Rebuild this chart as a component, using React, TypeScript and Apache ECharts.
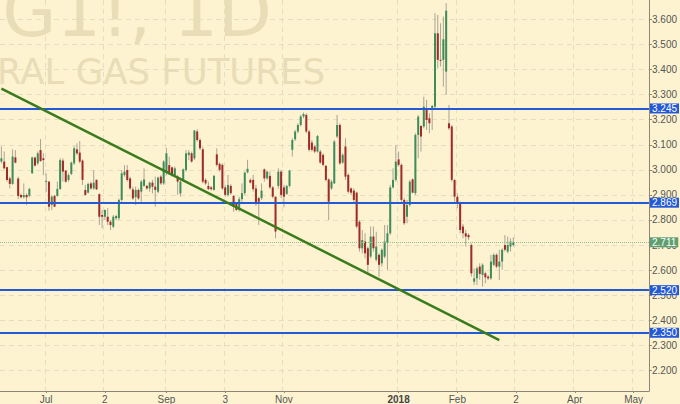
import React, { useEffect, useRef } from "react";
import * as echarts from "echarts";

// ---- data -----------------------------------------------------------------
const START_DATE = "2017-06-09";
const CATEGORY_COUNT = 232;
const HOLIDAYS = ["2017-07-04", "2017-09-04", "2017-11-23", "2017-12-25", "2018-01-01", "2018-01-15"];

const MONTH_LABELS: Record<string, string> = {
  "2017-07-03": "Jul",
  "2017-08-02": "2",
  "2017-09-01": "Sep",
  "2017-10-03": "3",
  "2017-11-01": "Nov",
  "2018-01-02": "2018",
  "2018-02-01": "Feb",
  "2018-03-02": "2",
  "2018-04-02": "Apr",
  "2018-05-01": "May",
};

const Y_TICKS = [2.2, 2.3, 2.4, 2.5, 2.6, 2.7, 2.8, 2.9, 3.0, 3.1, 3.2, 3.3, 3.4, 3.5, 3.6];
const LEVELS = [3.245, 2.869, 2.52, 2.35];
const LAST_PRICE = 2.711;
// trend line: [bar index, price]
const TREND_START = [0, 3.324];
const TREND_END = [178, 2.321];

// daily candles: [open, close, low, high]
const ohlc: number[][] = [
  [3.033, 3.046, 3.026, 3.093], [3.033, 3.006, 3.002, 3.073], [3.010, 2.960, 2.953, 3.013], [2.966, 2.944, 2.926, 2.973],
  [2.944, 3.053, 2.940, 3.082], [3.050, 3.029, 3.026, 3.079], [2.966, 2.896, 2.883, 2.973], [2.900, 2.891, 2.886, 2.906],
  [2.891, 2.900, 2.886, 2.946], [2.900, 2.891, 2.860, 2.906], [2.897, 2.924, 2.891, 2.929], [2.986, 3.049, 2.984, 3.053],
  [3.049, 3.017, 3.013, 3.053], [3.026, 3.066, 3.019, 3.073], [3.079, 3.035, 3.033, 3.123], [3.046, 3.039, 2.979, 3.066],
  [2.953, 2.956, 2.913, 2.986], [2.953, 2.853, 2.837, 2.956], [2.860, 2.893, 2.840, 2.900], [2.896, 2.853, 2.851, 2.900],
  [2.896, 2.924, 2.893, 2.953], [2.924, 3.039, 2.920, 3.046], [3.037, 2.993, 2.953, 3.046], [2.997, 2.953, 2.949, 2.999],
  [2.960, 2.979, 2.953, 2.986], [2.984, 3.029, 2.979, 3.033], [3.026, 3.086, 3.019, 3.095], [3.082, 3.066, 3.059, 3.106],
  [3.069, 3.033, 3.026, 3.115], [3.037, 2.960, 2.940, 3.042], [2.920, 2.900, 2.896, 2.940], [2.909, 2.944, 2.906, 2.949],
  [2.946, 2.926, 2.920, 2.953], [2.926, 2.949, 2.920, 2.999], [2.960, 2.922, 2.920, 2.962], [2.903, 2.813, 2.780, 2.906],
  [2.820, 2.813, 2.767, 2.840], [2.813, 2.840, 2.800, 2.842], [2.813, 2.793, 2.780, 2.847], [2.793, 2.780, 2.760, 2.800],
  [2.773, 2.813, 2.767, 2.820], [2.807, 2.816, 2.800, 2.820], [2.807, 2.880, 2.800, 2.886], [2.880, 2.986, 2.873, 2.999],
  [2.979, 2.993, 2.973, 3.019], [2.999, 2.960, 2.953, 3.019], [2.966, 2.926, 2.920, 2.973], [2.922, 2.886, 2.880, 2.933],
  [2.891, 2.920, 2.860, 2.933], [2.920, 2.886, 2.880, 2.926], [2.913, 2.953, 2.873, 2.960], [2.936, 2.962, 2.933, 3.006],
  [2.936, 2.926, 2.920, 2.940], [2.926, 2.949, 2.913, 2.953], [2.949, 2.933, 2.906, 2.960], [2.933, 2.920, 2.853, 2.973],
  [2.913, 2.969, 2.906, 2.973], [2.973, 2.946, 2.940, 2.979], [2.946, 3.033, 2.940, 3.039], [2.993, 3.066, 2.979, 3.086],
  [3.019, 2.986, 2.979, 3.053], [3.010, 2.979, 2.973, 3.013], [2.979, 3.006, 2.973, 3.013], [2.973, 2.953, 2.900, 2.979],
  [2.906, 2.953, 2.893, 2.960], [2.957, 3.002, 2.953, 3.006], [2.999, 3.066, 2.993, 3.079], [3.059, 3.069, 3.039, 3.079],
  [3.066, 3.033, 3.029, 3.073], [3.046, 3.157, 3.039, 3.159], [3.153, 3.119, 3.113, 3.162], [3.119, 3.086, 3.079, 3.126],
  [3.082, 2.953, 2.946, 3.093], [2.960, 2.946, 2.940, 2.966], [2.936, 2.923, 2.920, 2.953], [2.930, 2.923, 2.917, 2.936],
  [2.920, 2.976, 2.917, 2.980], [3.062, 3.020, 3.013, 3.086], [3.024, 3.000, 2.993, 3.030], [3.020, 2.926, 2.920, 3.026],
  [2.930, 2.900, 2.893, 2.940], [2.900, 2.940, 2.893, 2.980], [2.936, 2.907, 2.900, 2.943], [2.896, 2.853, 2.833, 2.900],
  [2.864, 2.840, 2.835, 2.870], [2.840, 2.883, 2.833, 2.893], [2.883, 2.907, 2.873, 2.946], [2.907, 2.989, 2.900, 2.993],
  [2.990, 3.004, 2.986, 3.040], [2.960, 2.949, 2.946, 2.966], [2.960, 2.923, 2.913, 2.980], [2.926, 2.867, 2.856, 2.940],
  [2.887, 2.873, 2.780, 2.893], [2.887, 2.917, 2.880, 2.946], [3.002, 2.966, 2.953, 3.006], [2.966, 2.993, 2.960, 2.997],
  [2.976, 2.930, 2.923, 2.993], [2.930, 2.893, 2.887, 2.936], [2.893, 2.754, 2.727, 2.893], [2.936, 2.993, 2.926, 3.006],
  [2.993, 2.900, 2.887, 3.000], [2.930, 2.893, 2.851, 2.940], [2.904, 2.936, 2.900, 2.940], [2.936, 2.997, 2.930, 3.000],
  [3.080, 3.119, 3.053, 3.126], [3.122, 3.153, 3.115, 3.160], [3.153, 3.179, 3.146, 3.186], [3.179, 3.213, 3.173, 3.219],
  [3.213, 3.223, 3.206, 3.229], [3.219, 3.153, 3.146, 3.226], [3.153, 3.080, 3.073, 3.160], [3.109, 3.080, 3.073, 3.119],
  [3.093, 3.073, 3.066, 3.100], [3.073, 3.135, 3.069, 3.139], [3.073, 3.029, 3.024, 3.080], [3.060, 3.020, 3.013, 3.066],
  [3.016, 2.960, 2.953, 3.020], [2.962, 2.873, 2.800, 2.966], [2.926, 2.953, 2.920, 2.960], [2.946, 3.113, 2.944, 3.119],
  [3.133, 3.179, 3.126, 3.219], [3.179, 3.026, 3.020, 3.186], [3.029, 3.060, 3.024, 3.066], [3.093, 2.973, 2.960, 3.126],
  [2.980, 2.913, 2.906, 2.986], [2.926, 2.909, 2.900, 2.930], [2.917, 2.880, 2.867, 2.926], [2.909, 2.774, 2.767, 2.913],
  [2.793, 2.687, 2.674, 2.800], [2.687, 2.720, 2.667, 2.760], [2.714, 2.667, 2.647, 2.747], [2.687, 2.621, 2.587, 2.694],
  [2.654, 2.734, 2.647, 2.774], [2.734, 2.687, 2.674, 2.774], [2.641, 2.694, 2.634, 2.753], [2.661, 2.621, 2.574, 2.667],
  [2.627, 2.681, 2.614, 2.687], [2.654, 2.714, 2.647, 2.780], [2.710, 2.747, 2.601, 2.780], [2.747, 2.930, 2.740, 2.940],
  [2.930, 2.960, 2.926, 3.006], [2.960, 3.033, 2.953, 3.099], [3.042, 3.020, 3.013, 3.073], [3.020, 2.880, 2.867, 3.026],
  [2.880, 2.787, 2.780, 2.887], [2.813, 2.860, 2.787, 2.880], [2.860, 2.953, 2.853, 2.960], [2.962, 2.909, 2.907, 2.966],
  [2.907, 3.139, 2.900, 3.146], [3.139, 3.212, 3.046, 3.219], [3.175, 3.133, 3.073, 3.179], [3.173, 3.252, 3.166, 3.292],
  [3.246, 3.199, 3.159, 3.279], [3.206, 3.186, 3.146, 3.226], [3.246, 3.255, 3.159, 3.259], [3.252, 3.545, 3.246, 3.625],
  [3.545, 3.439, 3.405, 3.618], [3.439, 3.436, 3.412, 3.585], [3.439, 3.521, 3.332, 3.612], [3.392, 3.635, 3.299, 3.665],
  [3.186, 3.166, 3.159, 3.259], [3.173, 2.960, 2.953, 3.179], [2.960, 2.893, 2.873, 2.962], [2.893, 2.867, 2.847, 2.907],
  [2.867, 2.760, 2.747, 2.873], [2.774, 2.747, 2.727, 2.784], [2.747, 2.734, 2.694, 2.760], [2.740, 2.731, 2.720, 2.747],
  [2.700, 2.587, 2.574, 2.707], [2.554, 2.567, 2.541, 2.607], [2.567, 2.607, 2.541, 2.614], [2.614, 2.585, 2.561, 2.627],
  [2.581, 2.621, 2.534, 2.627], [2.587, 2.571, 2.547, 2.594], [2.574, 2.567, 2.560, 2.580], [2.567, 2.634, 2.561, 2.661],
  [2.621, 2.661, 2.615, 2.667], [2.661, 2.614, 2.607, 2.667], [2.614, 2.634, 2.561, 2.681], [2.634, 2.681, 2.601, 2.687],
  [2.700, 2.681, 2.674, 2.740], [2.674, 2.700, 2.667, 2.734], [2.694, 2.714, 2.674, 2.727], [2.700, 2.711, 2.694, 2.731],
];

// ---- helpers --------------------------------------------------------------
function buildTradingDays(start: string, count: number): string[] {
  const out: string[] = [];
  const d = new Date(start + "T00:00:00Z");
  while (out.length < count) {
    const dow = d.getUTCDay();
    const s = d.toISOString().slice(0, 10);
    if (dow !== 0 && dow !== 6 && HOLIDAYS.indexOf(s) < 0) out.push(s);
    d.setUTCDate(d.getUTCDate() + 1);
  }
  return out;
}

const BG = "#fdf3d0";
const GRID = "#e6dec2";
const AXIS = "#8c8678";
const UP = "#3f8c5b";
const DOWN = "#a02a28";
const WICK = "#a8a496";
const BLUE = "#2358d6";
const FONT = "'Liberation Sans', Arial, sans-serif";

export default function App() {
  const ref = useRef<HTMLDivElement>(null);

  useEffect(() => {
    if (!ref.current) return;
    const chart = echarts.init(ref.current, undefined, { renderer: "svg" });
    const dates = buildTradingDays(START_DATE, CATEGORY_COUNT);
    const isLabel = (_i: number, v: string) => MONTH_LABELS[v] !== undefined;
    const candleData = ohlc.map((d, i) => [i, d[0], d[1], d[2], d[3]]);

    const levelLabel = (bg: string, value: number) => ({
      show: true,
      position: "end",
      distance: 1,
      formatter: () => value.toFixed(3),
      color: "#ffffff",
      backgroundColor: bg,
      fontSize: 10,
      lineHeight: 10,
      fontFamily: FONT,
      padding: [0, 2, 0, 2],
    });

    chart.setOption({
      animation: false,
      backgroundColor: BG,
      grid: { left: 0, right: 30, top: 0, bottom: 13, containLabel: false },
      graphic: [
        {
          type: "text",
          x: 272,
          y: 12,
          z: 0,
          silent: true,
          style: {
            text: "NG1!, 1D",
            fill: "#e8ddb6",
            font: "70px 'DejaVu Sans'",
            align: "right",
            verticalAlign: "middle",
          },
        },
        {
          type: "text",
          x: 325,
          y: 71,
          z: 0,
          silent: true,
          style: {
            text: "NATURAL GAS FUTURES",
            fill: "#e8ddb6",
            font: "35.5px 'DejaVu Sans'",
            align: "right",
            verticalAlign: "middle",
          },
        },
      ],
      xAxis: {
        type: "category",
        data: dates,
        boundaryGap: true,
        axisLine: { show: true, lineStyle: { color: AXIS, width: 1 } },
        axisTick: { show: true, interval: isLabel, alignWithLabel: true, length: 2, lineStyle: { color: AXIS } },
        axisLabel: {
          interval: isLabel,
          formatter: (v: string) => (MONTH_LABELS[v] === "2018" ? "{b|2018}" : MONTH_LABELS[v] || ""),
          color: "#555555",
          fontSize: 10,
          fontFamily: FONT,
          margin: 3,
          rich: { b: { fontWeight: "bold", color: "#444444", fontSize: 10, fontFamily: FONT } },
        },
        splitLine: { show: true, interval: isLabel, lineStyle: { color: GRID, type: [5, 4], width: 1 } },
      },
      yAxis: {
        type: "value",
        position: "right",
        min: 2.1176,
        max: 3.6778,
        axisLine: { show: true, lineStyle: { color: AXIS, width: 1 } },
        axisTick: { show: true, customValues: Y_TICKS, length: 3, lineStyle: { color: AXIS } },
        axisLabel: {
          customValues: Y_TICKS,
          formatter: (v: number) => v.toFixed(3),
          color: "#555555",
          fontSize: 10,
          fontFamily: FONT,
          margin: 3,
        },
        splitLine: { show: true, lineStyle: { color: GRID, type: [5, 4], width: 1 } },
      },
      series: [
        {
          type: "custom",
          clip: true,
          z: 3,
          encode: { x: 0, y: [1, 2, 3, 4] },
          data: candleData,
          renderItem: (_params: any, api: any) => {
            const i = api.value(0);
            const o = api.value(1);
            const c = api.value(2);
            const l = api.value(3);
            const h = api.value(4);
            const po = api.coord([i, o]);
            const pc = api.coord([i, c]);
            const pl = api.coord([i, l]);
            const ph = api.coord([i, h]);
            const x = po[0];
            const bw = Math.max(1.6, api.size([1, 0])[0] * 0.72);
            const top = Math.min(po[1], pc[1]);
            const bot = Math.max(po[1], pc[1]);
            return {
              type: "group",
              children: [
                { type: "line", shape: { x1: x, y1: ph[1], x2: x, y2: pl[1] }, style: { stroke: WICK, lineWidth: 1 } },
                {
                  type: "rect",
                  shape: { x: x - bw / 2, y: top, width: bw, height: Math.max(1, bot - top) },
                  style: { fill: c >= o ? UP : DOWN },
                },
              ],
            };
          },
        },
        {
          type: "line",
          data: [],
          z: 4,
          silent: true,
          markLine: {
            silent: true,
            symbol: "none",
            precision: 3,
            animation: false,
            data: [
              ...LEVELS.map((v) => ({
                yAxis: v,
                lineStyle: { color: BLUE, width: 2, type: "solid" },
                label: levelLabel(BLUE, v),
              })),
              {
                yAxis: LAST_PRICE,
                lineStyle: { color: "#8fbf8c", width: 1, type: "dotted" },
                label: levelLabel("#5f9e6f", LAST_PRICE),
              },
              [
                { coord: [dates[TREND_START[0]], TREND_START[1]], symbol: "none" },
                { coord: [dates[TREND_END[0]], TREND_END[1]], symbol: "none" },
              ].map((p) => ({
                ...p,
                lineStyle: { color: "#3a7b1c", width: 2.5, type: "solid" },
                label: { show: false },
              })),
            ],
          },
        },
      ],
    });

    return () => chart.dispose();
  }, []);

  return (
    <div
      ref={ref}
      style={{ position: "fixed", left: 0, top: 0, width: 680, height: 404 }}
    />
  );
}
